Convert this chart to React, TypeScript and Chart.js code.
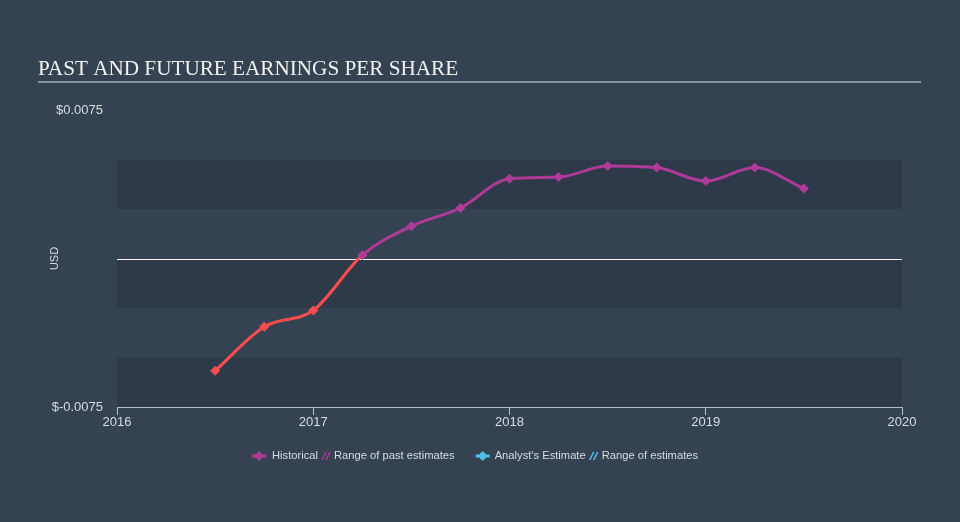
import React, { useEffect, useRef } from 'react';
import { Chart, registerables } from 'chart.js';

Chart.register(...registerables);

const quarters = [2016.5, 2016.75, 2017, 2017.25, 2017.5, 2017.75, 2018, 2018.25, 2018.5, 2018.75, 2019, 2019.25, 2019.5];
const eps = [-0.00567, -0.00345, -0.00262, 0.00017, 0.00163, 0.00255, 0.00403, 0.00411, 0.00467, 0.00459, 0.00391, 0.00459, 0.00353];
const yearTicks = [2016, 2017, 2018, 2019, 2020];
const yMin = -0.0075;
const yMax = 0.0075;
const bandStep = 0.0025;
const titleText = 'PAST AND FUTURE EARNINGS PER SHARE';
const axisTitle = 'USD';
const legendItems = ['Historical', 'Range of past estimates', "Analyst's Estimate", 'Range of estimates'];

const BG = '#344251';
const BAND = '#2e3a4a';
const PURPLE = '#b03a98';
const RED = '#ff4d4d';
const BLUE = '#4fc1ea';
const TEXT = '#d8dde2';
const AXIS = '#b4c0cc';
const SANS = '"Liberation Sans", Arial, sans-serif';

const decorPlugin = {
  id: 'decor',
  beforeDraw(chart: any) {
    const { ctx, width, height } = chart;
    ctx.save();
    ctx.fillStyle = BG;
    ctx.fillRect(0, 0, width, height);
    ctx.restore();
  },
  beforeDatasetsDraw(chart: any) {
    const { ctx, chartArea, scales } = chart;
    const y = scales.y;
    ctx.save();
    let k = 0;
    for (let v = yMin; v < yMax - 1e-9; v += bandStep, k++) {
      if (k % 2 === 0) {
        const top = y.getPixelForValue(v + bandStep);
        const bot = y.getPixelForValue(v);
        ctx.fillStyle = BAND;
        ctx.fillRect(chartArea.left, top, chartArea.right - chartArea.left, bot - top);
      }
    }
    const z = Math.round(y.getPixelForValue(0)) + 0.5;
    ctx.strokeStyle = '#ffffff';
    ctx.lineWidth = 1;
    ctx.beginPath();
    ctx.moveTo(chartArea.left, z);
    ctx.lineTo(chartArea.right, z);
    ctx.stroke();
    ctx.restore();
  },
  afterDraw(chart: any) {
    const { ctx, scales } = chart;
    ctx.save();
    // title
    ctx.fillStyle = '#f2f2f2';
    ctx.font = '21.2px "Liberation Serif", "Times New Roman", serif';
    ctx.textBaseline = 'alphabetic';
    ctx.textAlign = 'left';
    ctx.fillText(titleText, 38, 74.5);
    ctx.strokeStyle = '#a7b0ba';
    ctx.lineWidth = 1.5;
    ctx.beginPath();
    ctx.moveTo(38, 82);
    ctx.lineTo(921, 82);
    ctx.stroke();
    // USD
    const zy = scales.y.getPixelForValue(0);
    ctx.save();
    ctx.translate(55, zy);
    ctx.rotate(-Math.PI / 2);
    ctx.font = '11px ' + SANS;
    ctx.fillStyle = TEXT;
    ctx.textAlign = 'center';
    ctx.textBaseline = 'middle';
    ctx.fillText(axisTitle, 0, 0);
    ctx.restore();
    // legend
    const ly = 456;
    ctx.font = '11.2px ' + SANS;
    ctx.textBaseline = 'middle';
    ctx.textAlign = 'left';
    const diamond = (cx: number, color: string) => {
      ctx.strokeStyle = color;
      ctx.lineWidth = 3;
      ctx.beginPath();
      ctx.moveTo(cx - 7, ly);
      ctx.lineTo(cx + 7, ly);
      ctx.stroke();
      ctx.fillStyle = color;
      ctx.beginPath();
      ctx.moveTo(cx, ly - 5);
      ctx.lineTo(cx + 5, ly);
      ctx.lineTo(cx, ly + 5);
      ctx.lineTo(cx - 5, ly);
      ctx.closePath();
      ctx.fill();
    };
    const hatch = (x: number, color: string) => {
      ctx.strokeStyle = color;
      ctx.lineWidth = 1.5;
      for (let i = 0; i < 2; i++) {
        ctx.beginPath();
        ctx.moveTo(x + i * 4, ly + 4);
        ctx.lineTo(x + 4 + i * 4, ly - 4);
        ctx.stroke();
      }
    };
    let x = 252;
    diamond(x + 7, PURPLE);
    x += 20;
    ctx.fillStyle = TEXT;
    ctx.fillText(legendItems[0], x, ly);
    x += ctx.measureText(legendItems[0]).width + 4;
    hatch(x, PURPLE);
    x += 12;
    ctx.fillStyle = TEXT;
    ctx.fillText(legendItems[1], x, ly);
    x += ctx.measureText(legendItems[1]).width + 21;
    diamond(x + 7, BLUE);
    x += 19;
    ctx.fillStyle = TEXT;
    ctx.fillText(legendItems[2], x, ly);
    x += ctx.measureText(legendItems[2]).width + 4;
    hatch(x, BLUE);
    x += 12;
    ctx.fillStyle = TEXT;
    ctx.fillText(legendItems[3], x, ly);
    ctx.restore();
  },
};

export default function App() {
  const ref = useRef<HTMLCanvasElement>(null);
  useEffect(() => {
    if (!ref.current) return;
    const data = quarters.map((q, i) => ({ x: q, y: eps[i] }));
    const chart = new Chart(ref.current, {
      type: 'line',
      data: {
        datasets: [
          {
            label: 'Historical',
            data,
            borderWidth: 3,
            cubicInterpolationMode: 'monotone',
            pointStyle: 'rectRot',
            pointRadius: 5,
            pointHoverRadius: 5,
            pointBorderWidth: 0,
            pointBackgroundColor: eps.map((v) => (v < 0 ? RED : PURPLE)),
            pointBorderColor: eps.map((v) => (v < 0 ? RED : PURPLE)),
            borderColor: PURPLE,
            segment: {
              borderColor: (c: any) => (c.p0.parsed.y < 0 || c.p1.parsed.y < 0 ? RED : PURPLE),
            },
          } as any,
        ],
      },
      options: {
        animation: false,
        responsive: false,
        maintainAspectRatio: false,
        layout: { padding: { left: 0, right: 58, top: 110, bottom: 0 } },
        plugins: { legend: { display: false }, title: { display: false }, tooltip: { enabled: false } },
        scales: {
          x: {
            type: 'linear',
            min: 2016,
            max: 2020,
            afterBuildTicks: (s: any) => {
              s.ticks = yearTicks.map((v) => ({ value: v }));
            },
            afterFit: (s: any) => {
              s.height = 115;
            },
            ticks: {
              color: TEXT,
              font: { family: SANS, size: 13 },
              padding: 0,
              callback: (v: any) => String(v),
              maxRotation: 0,
            },
            grid: { drawOnChartArea: false, drawTicks: true, tickLength: 8, color: AXIS, lineWidth: 1 },
            border: { display: true, color: AXIS, width: 1 },
          },
          y: {
            type: 'linear',
            min: yMin,
            max: yMax,
            afterBuildTicks: (s: any) => {
              s.ticks = [{ value: yMin }, { value: yMax }];
            },
            afterFit: (s: any) => {
              s.width = 117;
            },
            ticks: {
              color: TEXT,
              font: { family: SANS, size: 13 },
              padding: 14,
              callback: (v: any) => (v < 0 ? '$-' + Math.abs(v).toFixed(4) : '$' + Number(v).toFixed(4)),
            },
            grid: { display: false, drawTicks: false },
            border: { display: false },
          },
        },
      },
      plugins: [decorPlugin],
    });
    return () => chart.destroy();
  }, []);
  return (
    <div style={{ position: 'fixed', left: 0, top: 0, width: 960, height: 522, background: BG }}>
      <canvas ref={ref} width={960} height={522} style={{ width: 960, height: 522, display: 'block' }} />
    </div>
  );
}
